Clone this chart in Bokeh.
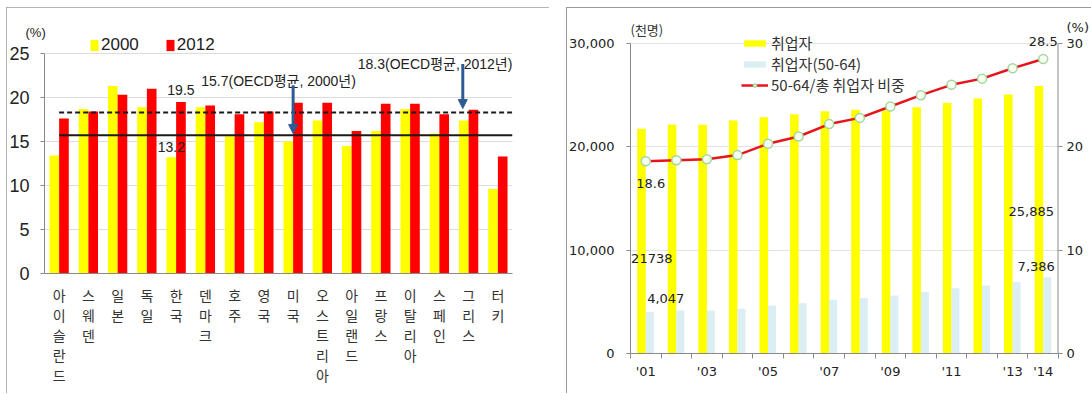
from bokeh.plotting import figure
from bokeh.models import (Range1d, LinearAxis, FixedTicker, Legend, LegendItem, Arrow, Title,
                          NormalHead, ColumnDataSource, NumeralTickFormatter)
from bokeh.transform import dodge
from bokeh.embed import file_html
from bokeh.resources import INLINE
from bokeh.core.properties import value

# ---------------- data: left chart ----------------
countries = ["아이슬란드", "스웨덴", "일본", "독일", "한국", "덴마크", "호주", "영국", "미국",
             "오스트리아", "아일랜드", "프랑스", "이탈리아", "스페인", "그리스", "터키"]
share_2000 = [13.4, 18.7, 21.3, 18.9, 13.2, 18.9, 15.6, 17.2, 15.0, 17.4, 14.5, 16.2, 18.7, 15.9, 17.4, 9.6]
share_2012 = [17.6, 18.4, 20.3, 21.0, 19.5, 19.1, 18.1, 18.4, 19.4, 19.4, 16.2, 19.3, 19.3, 18.1, 18.6, 13.3]
oecd_2000 = 15.7
oecd_2012 = 18.3
left_yticks = [0, 5, 10, 15, 20, 25]

# ---------------- data: right chart ----------------
years = ["'01", "'02", "'03", "'04", "'05", "'06", "'07", "'08", "'09", "'10", "'11", "'12", "'13", "'14"]
shown_years = ["'01", "'03", "'05", "'07", "'09", "'11", "'13", "'14"]
employed = [21738, 22169, 22139, 22557, 22856, 23151, 23433, 23577, 23506, 23829, 24244, 24681, 25066, 25885]
employed_50_64 = [4047, 4150, 4160, 4330, 4640, 4860, 5200, 5380, 5620, 5960, 6310, 6570, 6920, 7386]
share_50_64 = [18.6, 18.7, 18.8, 19.2, 20.3, 21.0, 22.2, 22.8, 23.9, 25.0, 26.0, 26.6, 27.6, 28.5]
right_yticks = [0, 10000, 20000, 30000]
pct_ticks = [0, 10, 20, 30]

NARROW = "Liberation Sans, Noto Sans CJK KR"
CJK = "Noto Sans CJK KR"
SANS = "DejaVu Sans"

# ================= left figure =================
xi = list(range(1, len(countries) + 1))
src1 = ColumnDataSource(dict(x=xi, a=share_2000, b=share_2012))
p1 = figure(width=543, height=386, x_range=Range1d(0.5, len(countries) + 0.5), y_range=Range1d(0, 27.5),
            output_backend="svg", toolbar_location=None,
            min_border_left=37, min_border_right=37, min_border_top=24, min_border_bottom=120)
p1.styles = {"position": "absolute", "left": "6px", "top": "7px",
             "outline": "1px solid #9a9a9a", "outline-offset": "-1px"}
p1.outline_line_color = None
r_a = p1.vbar(x=dodge("x", -0.165, range=p1.x_range), top="a", width=0.33, source=src1,
              fill_color="#ffff00", line_color=None)
r_b = p1.vbar(x=dodge("x", 0.165, range=p1.x_range), top="b", width=0.33, source=src1,
              fill_color="#ff0000", line_color=None)

p1.segment(x0=[xi[0]], x1=[xi[-1] + 0.5], y0=[oecd_2000], y1=[oecd_2000], line_color="#1a1a1a", line_width=2)
p1.segment(x0=[xi[0]], x1=[xi[-1] + 0.5], y0=[oecd_2012], y1=[oecd_2012], line_color="#1a1a1a",
           line_width=2, line_dash="5 3")

us = countries.index("미국") + 1
gr = countries.index("그리스") + 1
kr = countries.index("한국") + 1
arrow_c = "#2e5b94"
p1.add_layout(Arrow(x_start=us, y_start=oecd_2000 + 5.7, x_end=us, y_end=oecd_2000 + 0.2,
                    line_color=arrow_c, line_width=3,
                    end=NormalHead(size=9, fill_color=arrow_c, line_color=arrow_c)))
p1.add_layout(Arrow(x_start=gr - 0.2, y_start=oecd_2012 + 5.5, x_end=gr - 0.2, y_end=oecd_2012 + 0.45,
                    line_color=arrow_c, line_width=3,
                    end=NormalHead(size=9, fill_color=arrow_c, line_color=arrow_c)))

ann = dict(text_font=value(NARROW), text_font_size="14px", text_baseline="middle", text_color="#222")
p1.text(x=[5.86], y=[21.93], text=[f"{oecd_2000}(OECD평균, 2000년)"], text_align="left", **ann)
p1.text(x=[11.21], y=[23.86], text=[f"{oecd_2012}(OECD평균, 2012년)"], text_align="left", **ann)
p1.text(x=[kr + 0.165], y=[share_2012[kr - 1]], y_offset=[-12], text=[f"{share_2012[kr - 1]}"],
        text_align="center", **ann)
p1.text(x=[kr - 0.165], y=[share_2000[kr - 1]], y_offset=[-10], text=[f"{share_2000[kr - 1]}"],
        text_align="center", **ann)

p1.xgrid.grid_line_color = None
p1.ygrid.grid_line_color = "#dcdcdc"
p1.ygrid.ticker = FixedTicker(ticks=left_yticks)
p1.yaxis.ticker = FixedTicker(ticks=left_yticks)
p1.yaxis.bounds = (0, 25)
p1.yaxis.axis_line_color = "#8a8a8a"
p1.yaxis.major_tick_line_color = "#8a8a8a"
p1.yaxis.major_tick_out = 4
p1.yaxis.major_tick_in = 0
p1.yaxis.minor_tick_line_color = None
p1.yaxis.major_label_text_font = NARROW
p1.yaxis.major_label_text_font_size = "18px"
p1.yaxis.major_label_text_color = "#222"
p1.yaxis.major_label_standoff = 11
p1.xaxis.ticker = FixedTicker(ticks=xi)
p1.xaxis.major_label_overrides = {i: "\n".join(n) for i, n in zip(xi, countries)}
p1.xaxis.axis_line_color = "#8a8a8a"
p1.xaxis.major_tick_line_color = None
p1.xaxis.minor_tick_line_color = None
p1.xaxis.major_label_text_font = CJK
p1.xaxis.major_label_text_font_size = "14px"
p1.xaxis.major_label_text_line_height = 1.0
p1.xaxis.major_label_text_color = "#333"
p1.xaxis.major_label_standoff = 5

p1.add_layout(Title(text="(%)", align="left", offset=-19, standoff=-16, text_font=NARROW,
                    text_font_size="13px", text_font_style="normal", text_color="#222"), "above")

leg1 = Legend(items=[LegendItem(label="2000", renderers=[r_a]), LegendItem(label="2012", renderers=[r_b])],
              orientation="horizontal", location=(45, 218), padding=0, margin=0,
              glyph_width=10, glyph_height=14, label_standoff=2, spacing=26,
              label_text_font=NARROW, label_text_font_size="17px", label_text_color="#222",
              background_fill_alpha=0, border_line_color=None)
p1.add_layout(leg1, "center")

# ================= right figure =================
yi = list(range(1, len(years) + 1))
src2 = ColumnDataSource(dict(x=yi, e=employed, o=employed_50_64, s=share_50_64))
p2 = figure(width=525, height=386, x_range=Range1d(0.5, len(years) + 0.5), y_range=Range1d(0, 32419),
            output_backend="svg", toolbar_location=None,
            min_border_left=61, min_border_right=31, min_border_top=11, min_border_bottom=40)
p2.styles = {"position": "absolute", "left": "566px", "top": "7px",
             "box-shadow": "inset 1px 1px 0 #9a9a9a"}
p2.border_fill_color = None
p2.outline_line_color = None
p2.extra_y_ranges = {"pct": Range1d(0, 32.419)}

r_e = p2.vbar(x=dodge("x", -0.14, range=p2.x_range), top="e", width=0.28, source=src2,
              fill_color="#ffff00", line_color=None)
r_o = p2.vbar(x=dodge("x", 0.13, range=p2.x_range), top="o", width=0.26, source=src2,
              fill_color="#dbeef4", line_color=None)
r_l = p2.line(x="x", y="s", source=src2, y_range_name="pct", line_color="#e8141c", line_width=2.5)
r_m = p2.scatter(x="x", y="s", source=src2, y_range_name="pct", size=9, fill_color="#f6fff2",
                 line_color="#a6d6a0", line_width=1.5)

# right axis line (drawn only up to 30 %)
p2.segment(x0=[yi[-1] + 0.5], x1=[yi[-1] + 0.5], y0=[pct_ticks[0]], y1=[pct_ticks[-1]], y_range_name="pct",
           line_color="#8a8a8a", line_width=2)

lab = dict(text_font=value(SANS), text_font_size="13px", text_baseline="middle", text_align="center",
           text_color="#222")
p2.text(x=[yi[0]], y=[share_50_64[0]], y_range_name="pct", y_offset=[22], x_offset=[5],
        text=[f"{share_50_64[0]}"], **lab)
p2.text(x=[yi[-1]], y=[share_50_64[-1]], y_range_name="pct", y_offset=[-17], x_offset=[0],
        text=[f"{share_50_64[-1]}"], **lab)
p2.text(x=[yi[0]], y=[employed[0]], y_offset=[130], x_offset=[6], text=[f"{employed[0]}"], **lab)
p2.text(x=[yi[0]], y=[employed_50_64[0]], y_offset=[-13], x_offset=[20], text=[f"{employed_50_64[0]:,}"], **lab)
p2.text(x=[yi[-1]], y=[employed[-1]], y_offset=[125], x_offset=[-12], text=[f"{employed[-1]:,}"], **lab)
p2.text(x=[yi[-1]], y=[employed_50_64[-1]], y_offset=[-11], x_offset=[-7], text=[f"{employed_50_64[-1]:,}"], **lab)
p2.text(x=[0.5], y=[31355], text=["(천명)"], text_font=value(CJK), text_font_size="13px",
        text_baseline="middle", text_align="left", text_color="#333")

p2.xgrid.grid_line_color = None
p2.ygrid.grid_line_color = "#e3e3e3"
p2.ygrid.ticker = FixedTicker(ticks=right_yticks)
p2.yaxis.ticker = FixedTicker(ticks=right_yticks)
p2.yaxis.formatter = NumeralTickFormatter(format="0,0")
p2.yaxis.bounds = (0, 30000)
p2.yaxis.axis_line_color = "#8a8a8a"
p2.yaxis.major_tick_line_color = "#8a8a8a"
p2.yaxis.major_tick_out = 4
p2.yaxis.major_tick_in = 0
p2.yaxis.minor_tick_line_color = None
p2.yaxis.major_label_standoff = 12

# right % axis: "(%)" unit shown as a label above the 30 tick
ax_r = LinearAxis(y_range_name="pct", ticker=FixedTicker(ticks=pct_ticks + [31.5], minor_ticks=pct_ticks),
                  major_label_overrides={31.5: "(%)"})
p2.add_layout(ax_r, "right")
ax_r.axis_line_color = None
ax_r.major_tick_line_color = None
ax_r.major_tick_out = 4
ax_r.major_tick_in = 0
ax_r.minor_tick_line_color = "#8a8a8a"
ax_r.minor_tick_out = 4
ax_r.minor_tick_in = 0
ax_r.major_label_standoff = 4

for ax in (p2.yaxis[0], ax_r):
    ax.major_label_text_font = SANS
    ax.major_label_text_font_size = "13px"
    ax.major_label_text_color = "#222"

p2.xaxis.ticker = FixedTicker(ticks=yi, minor_ticks=[i - 0.5 for i in yi] + [yi[-1] + 0.5])
p2.xaxis.major_label_overrides = {i: (y if y in shown_years else "") for i, y in zip(yi, years)}
p2.xaxis.axis_line_color = "#8a8a8a"
p2.xaxis.major_tick_line_color = None
p2.xaxis.minor_tick_line_color = "#8a8a8a"
p2.xaxis.minor_tick_out = 5
p2.xaxis.minor_tick_in = 0
p2.xaxis.major_label_text_font = SANS
p2.xaxis.major_label_text_font_size = "13px"
p2.xaxis.major_label_text_color = "#222"
p2.xaxis.major_label_standoff = 4

leg2 = Legend(items=[LegendItem(label="취업자", renderers=[r_e]),
                     LegendItem(label="취업자(50-64)", renderers=[r_o]),
                     LegendItem(label="50-64/총 취업자 비중", renderers=[r_l, r_m])],
              orientation="vertical", location=(111, 258), padding=0, margin=0,
              glyph_width=27, glyph_height=8, label_standoff=3, spacing=0,
              label_text_font=CJK, label_text_font_size="15px", label_text_color="#333",
              background_fill_alpha=0, border_line_color=None)
p2.add_layout(leg2, "center")

open("out.html", "w").write(file_html([p1, p2], INLINE))
